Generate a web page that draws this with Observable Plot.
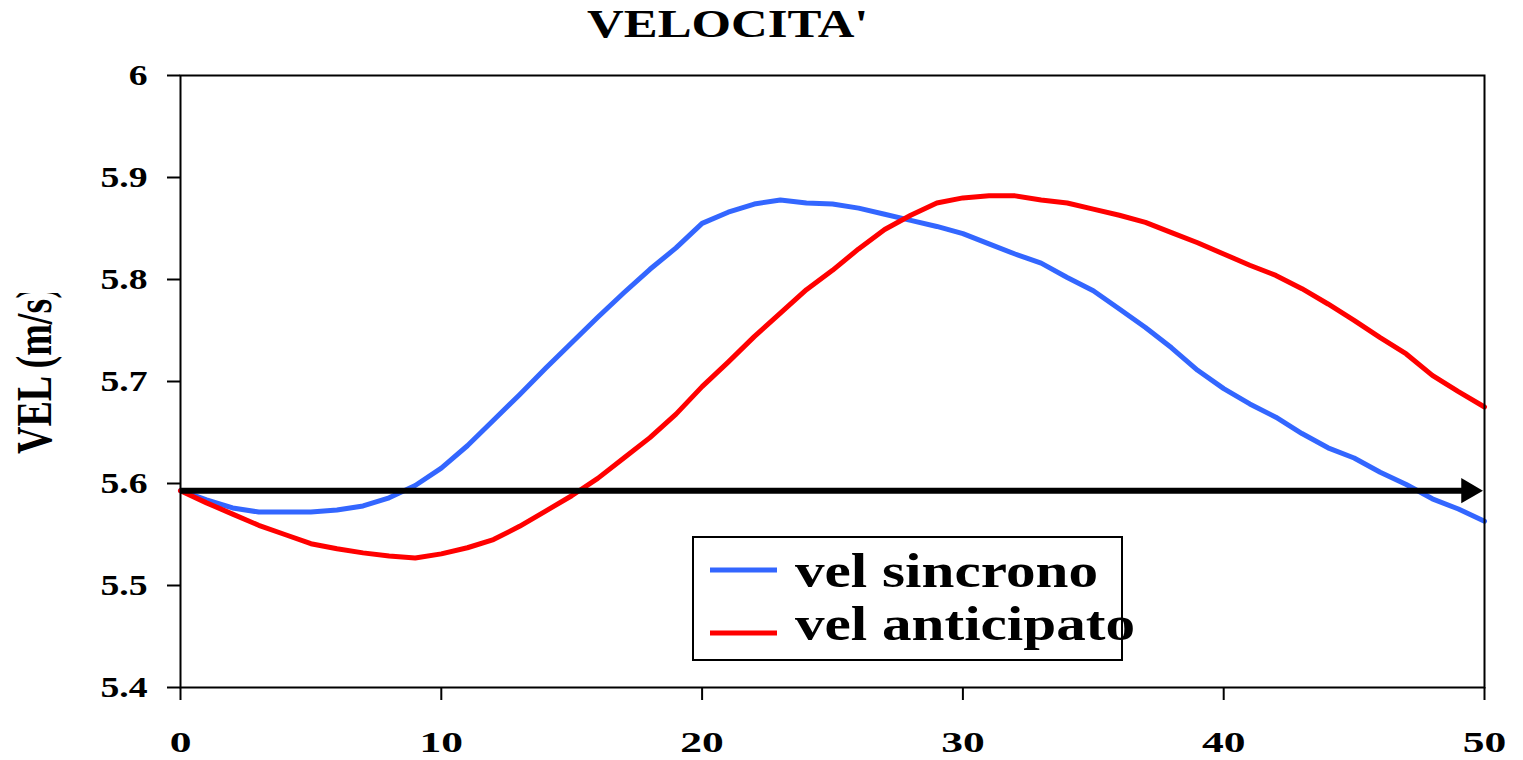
<!DOCTYPE html>
<html><head><meta charset="utf-8">
<script src="https://cdn.jsdelivr.net/npm/d3@7"></script>
<script src="https://cdn.jsdelivr.net/npm/@observablehq/plot@0.6"></script>
<style>
body{margin:0;background:#fff;font-family:"Liberation Serif",serif;}
#wrap{position:relative;width:1523px;height:760px;overflow:hidden;background:#fff}
#title{position:absolute;left:0;top:3.5px;width:1456px;text-align:center;font-size:40px;line-height:40px;font-weight:bold;color:#000}
#title span{display:inline-block;transform:scaleX(1.27);}
#chart{position:absolute;left:0;top:50px;}
#chart g[aria-label$="tick"] path{stroke-width:2px}
</style></head><body>
<div id="wrap"><div id="title"><span id="titleText"></span></div><div id="chart"></div></div>
<script>
const titleText = "VELOCITA'";
const yLabel = "VEL (m/s)";
const xValues = [0,1,2,3,4,5,6,7,8,9,10,11,12,13,14,15,16,17,18,19,20,21,22,23,24,25,26,27,28,29,30,31,32,33,34,35,36,37,38,39,40,41,42,43,44,45,46,47,48,49,50];
const velSincrono = [5.593,5.584,5.576,5.572,5.572,5.572,5.574,5.578,5.586,5.598,5.615,5.637,5.662,5.687,5.713,5.738,5.763,5.787,5.810,5.831,5.855,5.866,5.874,5.878,5.875,5.874,5.870,5.864,5.858,5.852,5.845,5.835,5.825,5.816,5.802,5.789,5.771,5.753,5.733,5.711,5.693,5.678,5.665,5.649,5.635,5.625,5.611,5.599,5.585,5.575,5.563];
const velAnticipato = [5.593,5.581,5.570,5.559,5.550,5.541,5.536,5.532,5.529,5.527,5.531,5.537,5.545,5.558,5.573,5.588,5.605,5.625,5.645,5.668,5.695,5.719,5.744,5.767,5.790,5.809,5.830,5.849,5.863,5.875,5.880,5.882,5.882,5.878,5.875,5.869,5.863,5.856,5.846,5.836,5.825,5.814,5.804,5.791,5.776,5.760,5.743,5.727,5.706,5.690,5.675];
const seriesNames = ["vel sincrono","vel anticipato"];
const seriesColors = ["#3366ff","#ff0000"];
const xTicks = [0,10,20,30,40,50];
const xTickLabels = ["0","10","20","30","40","50"];
const yTicks = [5.4,5.5,5.6,5.7,5.8,5.9,6];
const yTickLabels = ["5.4","5.5","5.6","5.7","5.8","5.9","6"];
const arrowLevel = 5.593;
const arrowStart = 0;
const arrowEnd = 50;

document.getElementById("titleText").textContent = titleText;

const rows = [];
xValues.forEach((x, i) => {
  rows.push({x, v: velSincrono[i], s: seriesNames[0]});
  rows.push({x, v: velAnticipato[i], s: seriesNames[1]});
});

const plot = Plot.plot({
  width: 1523, height: 710,
  marginTop: 25, marginBottom: 73, marginLeft: 180, marginRight: 39,
  style: {fontFamily: '"Liberation Serif", serif', fontWeight: "bold", background: "white", color: "black", overflow: "visible"},
  x: {domain: [0, 50]},
  y: {domain: [5.4, 6]},
  color: {domain: seriesNames, range: seriesColors},
  marks: [
    Plot.axisY({ticks: yTicks, tickFormat: d => yTickLabels[yTicks.indexOf(d)], tickSize: 13, tickPadding: 20, fontSize: 29, label: null, strokeWidth: 2}),
    Plot.axisX({ticks: xTicks, tickFormat: d => xTickLabels[xTicks.indexOf(d)], tickSize: 13, tickPadding: 31, fontSize: 29, label: null, strokeWidth: 2}),
    Plot.line(rows, {x: "x", y: "v", z: "s", stroke: "s", strokeWidth: 5, curve: "linear"}),
    Plot.ruleY([arrowLevel], {y: d => d, x1: () => arrowStart, x2: () => arrowEnd, stroke: "black", strokeWidth: 6, insetRight: 15}),
    Plot.dot([{x: arrowEnd, y: arrowLevel}], {x: "x", y: "y", symbol: "triangle", r: 9.3, rotate: 90, fill: "black", stroke: null, dx: -16}),
    Plot.frame({stroke: "black", strokeWidth: 2})
  ]
});

document.getElementById("chart").append(plot);
const svg = d3.select(plot);

function stretch(sel, k) {
  sel.each(function() {
    const w = this.getComputedTextLength();
    this.setAttribute("textLength", w * k);
    this.setAttribute("lengthAdjust", "spacingAndGlyphs");
  });
}
stretch(svg.selectAll('g[aria-label="y-axis tick label"] text'), 1.3);
stretch(svg.selectAll('g[aria-label="x-axis tick label"] text'), 1.5);

// y-axis title (clipped like the original)
const defs = svg.append("defs");
defs.append("clipPath").attr("id", "ylabclip")
  .append("rect").attr("x", 0).attr("y", 243).attr("width", 170).attr("height", 400);
svg.append("g").attr("clip-path", "url(#ylabclip)")
  .append("text")
  .attr("transform", "translate(51,404) rotate(-90) scale(1,1.33)")
  .attr("text-anchor", "start")
  .attr("font-size", 38)
  .attr("font-weight", "bold")
  .attr("fill", "black")
  .text(yLabel);

// legend
const color = plot.scale("color");
const lg = svg.append("g").attr("aria-label", "legend");
lg.append("rect").attr("x", 693).attr("y", 487).attr("width", 429).attr("height", 123)
  .attr("fill", "white").attr("stroke", "black").attr("stroke-width", 2);
const legendWidths = [303, 340];
seriesNames.forEach((name, i) => {
  const ly = 520 + i * 63;
  lg.append("line").attr("x1", 710).attr("x2", 777).attr("y1", ly).attr("y2", ly)
    .attr("stroke", color.apply(name)).attr("stroke-width", 5);
  lg.append("text").attr("x", 795).attr("y", 537 + i * 53)
    .attr("text-anchor", "start")
    .attr("font-size", 48).attr("font-weight", "bold").attr("fill", "black")
    .attr("textLength", legendWidths[i]).attr("lengthAdjust", "spacingAndGlyphs")
    .text(name);
});
</script>
</body></html>
